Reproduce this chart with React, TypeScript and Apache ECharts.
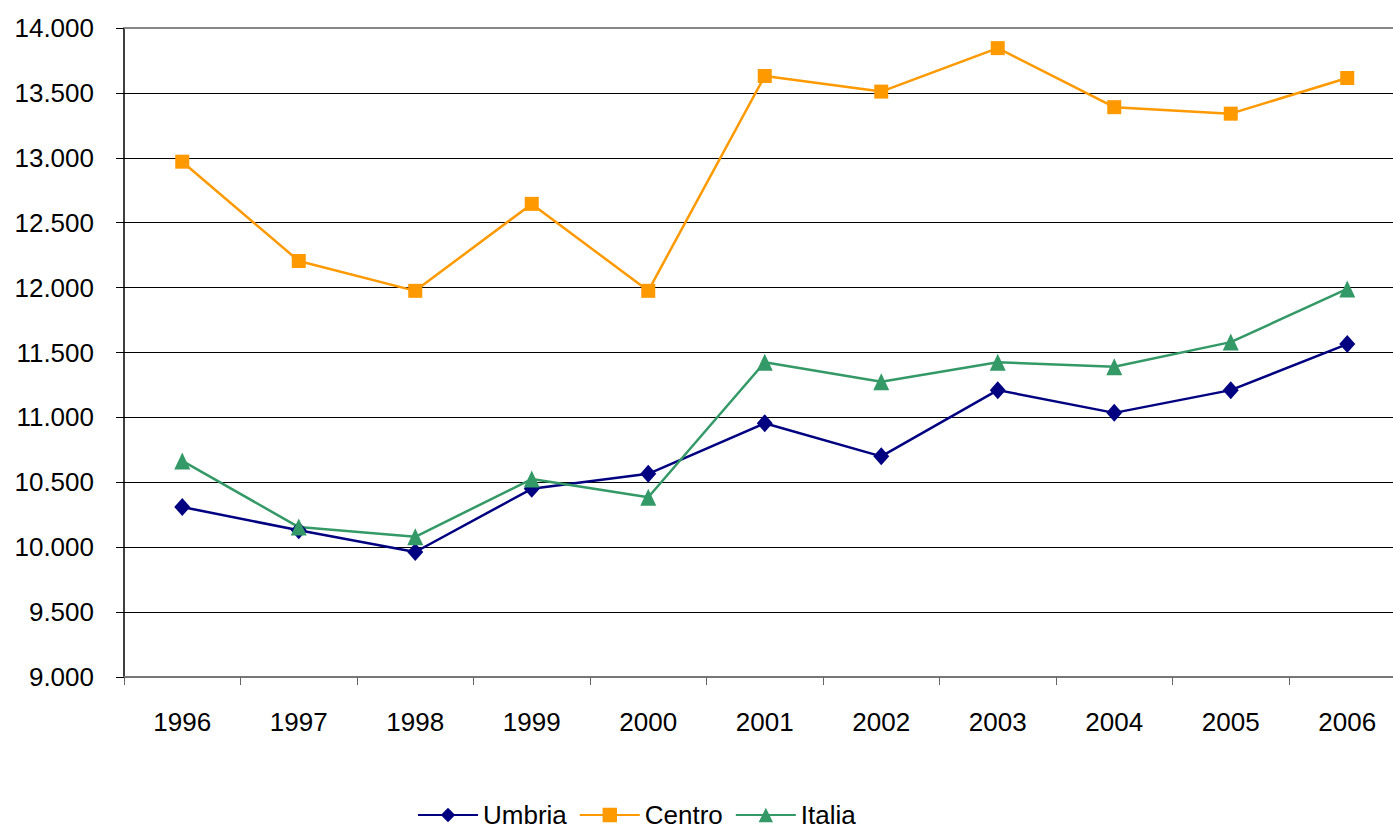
import React, { useEffect, useRef } from "react";
import * as echarts from "echarts";

const years = ["1996", "1997", "1998", "1999", "2000", "2001", "2002", "2003", "2004", "2005", "2006"];
const umbria = [10310, 10130, 9963, 10450, 10565, 10955, 10700, 11210, 11035, 11210, 11565];
const centro = [12970, 12205, 11975, 12645, 11975, 13630, 13510, 13845, 13390, 13340, 13615];
const italia = [10665, 10155, 10080, 10525, 10385, 11425, 11275, 11425, 11390, 11580, 11990];

const fmt = (v: number) => {
  const s = String(Math.round(v));
  return s.replace(/\B(?=(\d{3})+(?!\d))/g, ".");
};

export default function App() {
  const ref = useRef<HTMLDivElement>(null);
  useEffect(() => {
    document.body.style.margin = "0";
    document.body.style.overflow = "hidden";
    const chart = echarts.init(ref.current!, undefined, { renderer: "svg" });
    const font = "'Liberation Sans', Arial, sans-serif";
    chart.setOption({
      animation: false,
      textStyle: { fontFamily: font },
      grid: { left: 124, top: 28, width: 1281.5, height: 649, containLabel: false },
      legend: {
        bottom: -3,
        left: 412,
        itemWidth: 60,
        itemHeight: 18,
        itemGap: 12,
        textStyle: { fontSize: 26, color: "#000", fontFamily: font },
        data: ["Umbria", "Centro", "Italia"],
      },
      xAxis: {
        type: "category",
        data: years,
        boundaryGap: true,
        axisLine: { lineStyle: { color: "#777", width: 2 } },
        axisTick: { show: true, interval: 0, length: 8, lineStyle: { color: "#666", width: 1 } },
        axisLabel: { fontSize: 26, color: "#000", margin: 32, fontFamily: font },
      },
      yAxis: {
        type: "value",
        min: 9000,
        max: 14000,
        interval: 500,
        axisLine: { show: true, lineStyle: { color: "#000", width: 1.5 } },
        axisTick: { show: true, length: 8, lineStyle: { color: "#000" } },
        axisLabel: { fontSize: 26, color: "#000", margin: 30, formatter: fmt, fontFamily: font },
        splitLine: { show: true, lineStyle: { color: "#000", width: 1 } },
      },
      series: [
        {
          name: "Umbria",
          type: "line",
          data: umbria,
          symbol: "diamond",
          symbolSize: [16, 18],
          itemStyle: { color: "#000080" },
          lineStyle: { color: "#000080", width: 2.5 },
        },
        {
          name: "Centro",
          type: "line",
          data: centro,
          symbol: "rect",
          symbolSize: 14,
          itemStyle: { color: "#FF9900" },
          lineStyle: { color: "#FF9900", width: 2.5 },
        },
        {
          name: "Italia",
          type: "line",
          data: italia,
          symbol: "triangle",
          symbolSize: [16, 17],
          itemStyle: { color: "#339966" },
          lineStyle: { color: "#339966", width: 2.5 },
        },
      ],
      graphic: [
        { type: "line", shape: { x1: 124, y1: 28, x2: 1410, y2: 28 }, style: { stroke: "#888", lineWidth: 2 }, z: 10 },
      ],
    });
    return () => chart.dispose();
  }, []);
  return <div ref={ref} style={{ width: 1410, height: 830 }} />;
}
